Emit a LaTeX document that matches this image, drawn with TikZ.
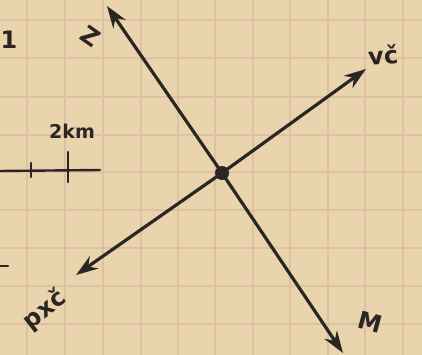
\documentclass[tikz,border=0pt]{standalone}
\usepackage{fontspec}
\setmainfont{DejaVu Sans}
\usetikzlibrary{arrows.meta}
\definecolor{paper}{HTML}{E9D4AD}
\definecolor{gridc}{HTML}{DEC0A3}
\definecolor{ink}{HTML}{2A2622}
\tikzset{
  axis/.style={ink, line width=3.2pt, line cap=round, -{Stealth[length=22pt,width=15pt]}},
  bar/.style={ink, line width=2.4pt, line cap=round},
  lbl/.style={text=ink, font=\bfseries\fontsize{24}{24}\selectfont, inner sep=0pt},
}
\begin{document}
\begin{tikzpicture}[x=1pt,y=-1pt]
\fill[paper] (0,0) rectangle (422,355);
\useasboundingbox (0,0) rectangle (422,355);
\foreach \gx in {27,65,103,141,178,215,253,290,328,365,403}
  \draw[gridc, line width=1.3pt] (\gx,0) -- (\gx,355);
\foreach \gy in {20,58,97,135,172,210,248,286,324}
  \draw[gridc, line width=1.3pt] (0,\gy) -- (422,\gy);
% axes
\coordinate (c) at (222,173);
\coordinate (n) at (107,6);
\coordinate (s) at (343,353);
\coordinate (e) at (366,69);
\coordinate (w) at (76,275);
\draw[axis] (c) -- (n);
\draw[axis] (c) -- (s);
\draw[axis] (c) -- (e);
\draw[axis] (c) -- (w);
\fill[ink] (c) circle (7);
% scale bar
\coordinate (b0) at (0,171);
\coordinate (b1) at (100,170);
\draw[bar] (b0) -- (b1);
\coordinate (t1a) at (31,163);
\coordinate (t1b) at (31,177);
\coordinate (t2a) at (68,152);
\coordinate (t2b) at (68,182);
\draw[bar] (t1a) -- (t1b);
\draw[bar] (t2a) -- (t2b);
\coordinate (d0) at (0,266);
\coordinate (d1) at (8,266);
\draw[bar] (d0) -- (d1);
% labels
\node[lbl, rotate=-35] (lz) at (91,36) {Z};
\node[lbl, rotate=5] (lv) at (383,55) {vč};
\node[lbl, rotate=38] (lp) at (45,310) {pxč};
\node[lbl, rotate=-15] (lm) at (370,322) {M};
\node[lbl, font=\bfseries\fontsize{19}{19}\selectfont] (lk) at (72,131) {2km};
\node[lbl] (l1) at (9,40) {1};
\end{tikzpicture}
\end{document}
